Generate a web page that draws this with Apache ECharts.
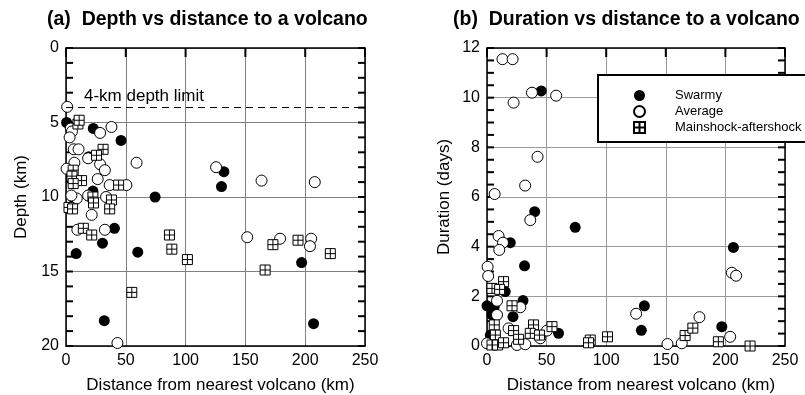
<!DOCTYPE html>
<html>
<head>
<meta charset="utf-8">
<script src="https://cdn.jsdelivr.net/npm/echarts@6/dist/echarts.min.js"></script>
<style>
  html, body { margin: 0; padding: 0; background: #fff; }
  #chart { width: 805px; height: 395px; }
</style>
</head>
<body>
<div id="chart"></div>
<script>
// [distance km, depth km]
const swarmyDepth = [
  [0.5, 5.0], [22.8, 5.4], [46, 6.2], [19, 7.3], [132, 8.3], [130, 9.3], [74.5, 10.0], [22.5, 9.6],
  [5.5, 10.0], [40.5, 12.1], [30.5, 13.1], [8.5, 13.8], [60, 13.7], [32, 18.3], [197, 14.4], [207, 18.5]
];
const averageDepth = [
  [1, 3.95], [4, 5.4], [5, 5.6], [3, 6.0], [38, 5.3], [28.5, 5.7], [6.5, 6.8], [10.5, 6.8], [18.5, 7.4],
  [28.5, 7.8], [32.5, 8.2], [59, 7.7], [7, 7.7], [0.5, 8.1], [125.5, 8.0], [163.5, 8.9], [208, 9.0],
  [26.5, 8.8], [36.5, 9.2], [50.5, 9.2], [9, 10.1], [4.5, 9.9], [21.5, 11.2], [33.5, 10.0], [18.5, 9.9],
  [9.5, 12.2], [32.5, 12.2], [151.5, 12.7], [179, 12.8], [205, 12.8], [204, 13.3], [43, 19.8]
];
const mainshockDepth = [
  [10, 5.1], [11, 4.85], [31, 6.8], [25.5, 7.2], [6, 8.2], [5, 8.6], [13, 8.9], [6, 9.1], [44, 9.2],
  [2.5, 10.7], [5.5, 10.8], [22.5, 10.0], [23, 10.4], [38, 10.2], [36.5, 10.8], [14.5, 12.1], [21.5, 12.55],
  [86.5, 12.55], [88.5, 13.5], [101.5, 14.2], [55, 16.4], [166.5, 14.9], [173, 13.2], [194, 12.9], [221, 13.8]
];

// [distance km, duration days]
const swarmyDuration = [
  [45.5, 10.27], [40, 5.41], [74, 4.78], [19.5, 4.16], [31.5, 3.23], [15.3, 2.19], [30.2, 1.83], [0, 1.62],
  [6, 1.58], [4.2, 1.25], [21.8, 1.18], [2.8, 0.44], [60, 0.51], [129.5, 0.63], [132, 1.62], [197, 0.78], [206.7, 3.97]
];
const averageDuration = [
  [13, 11.55], [21.5, 11.55], [22.3, 9.8], [37.7, 10.2], [58, 10.08], [42.4, 7.62], [32, 6.46], [6.4, 6.12],
  [36.3, 5.07], [9.7, 4.43], [13.4, 4.16], [10.3, 3.87], [0.5, 3.19], [1, 2.82], [205.4, 2.95], [209, 2.83],
  [27.9, 1.56], [8.4, 1.82], [8.4, 1.25], [18.1, 0.71], [50.3, 0.62], [44.7, 0.31], [0, 0.11], [25.1, 0.04],
  [32.1, 0.07], [125.1, 1.3], [151.4, 0.08], [163.4, 0.11], [178.2, 1.16], [204, 0.37]
];
const mainshockDuration = [
  [13.9, 2.59], [4.2, 2.32], [10.6, 2.28], [21, 1.62], [6.1, 0.85], [22.3, 0.62], [39, 0.85], [36.3, 0.51],
  [54.5, 0.78], [44, 0.44], [7, 0.44], [4.2, 0.04], [8.9, 0.04], [13.9, 0.13], [26.5, 0.27], [86.6, 0.24],
  [85.2, 0.13], [101.1, 0.37], [166.2, 0.42], [172.7, 0.72], [194.1, 0.17], [220.7, 0]
];

// tick positions on the frame (majors also carry labels / grid lines)
const distanceTicks = [0, 50, 100, 150, 200, 250];
const depthTicks = [0, 1, 2, 3, 4, 5, 6, 7, 8, 9, 10, 11, 12, 13, 14, 15, 16, 17, 18, 19, 20];
const durationTicks = [0, 0.5, 1, 1.5, 2, 2.5, 3, 3.5, 4, 4.5, 5, 5.5, 6, 6.5, 7, 7.5, 8, 8.5, 9, 9.5, 10, 10.5, 11, 11.5, 12];

const FONT = '"Liberation Sans", Arial, Helvetica, sans-serif';
const SQUARE = 'path://M0 0H10V10H0Z M5 0V10 M0 5H10';

const swarmyStyle = { symbol: 'circle', symbolSize: 11, itemStyle: { color: '#000', opacity: 1 } };
const averageStyle = { symbol: 'circle', symbolSize: 11, itemStyle: { color: '#fff', borderColor: '#000', borderWidth: 1, opacity: 1 } };
const mainshockStyle = { symbol: SQUARE, symbolSize: 10, itemStyle: { color: '#fff', borderColor: '#000', borderWidth: 1, opacity: 1 } };

const frameLine = { show: true, onZero: false, lineStyle: { color: '#000', width: 1.5 } };

function xAxes(gridIndex, grid) {
  const common = { gridIndex, type: 'value', min: 0, max: 250, interval: 50, axisLine: frameLine, axisTick: { show: false } };
  return [
    {
      ...common, position: 'bottom',
      name: 'Distance from nearest volcano (km)', nameLocation: 'middle', nameGap: 31,
      nameTextStyle: { color: '#000', fontSize: 17, fontFamily: FONT, padding: [0, 0, 0, 10] },
      axisLabel: { color: '#000', fontSize: 16, fontFamily: FONT, margin: 7 },
      splitLine: { show: true, lineStyle: { color: grid, width: 1 } },
    },
    { ...common, position: 'top', axisLabel: { show: false }, splitLine: { show: false } },
  ];
}

function yAxes(gridIndex, range, major, name, nameGap, grid) {
  const common = { gridIndex, type: 'value', min: range[0], max: range[1], inverse: !!range[2], interval: major, axisLine: frameLine, axisTick: { show: false } };
  return [
    {
      ...common, position: 'left',
      name, nameLocation: 'middle', nameGap,
      nameTextStyle: { color: '#000', fontSize: 17, fontFamily: FONT },
      axisLabel: { color: '#000', fontSize: 16, fontFamily: FONT, margin: 7 },
      splitLine: { show: true, lineStyle: { color: grid, width: 1 } },
    },
    { ...common, position: 'right', axisLabel: { show: false }, splitLine: { show: false } },
  ];
}

// inward frame ticks drawn as thin rect symbols placed through the axes' scales
function tickMarks(axisIndex, points, size, offset) {
  return {
    type: 'scatter', xAxisIndex: axisIndex, yAxisIndex: axisIndex, silent: true, clip: false, z: 1,
    symbol: 'rect', symbolSize: size, symbolOffset: offset,
    itemStyle: { color: '#000', opacity: 1 },
    data: points,
  };
}

const chart = echarts.init(document.getElementById('chart'), null, { renderer: 'canvas' });

chart.setOption({
  animation: false,
  backgroundColor: '#fff',
  textStyle: { fontFamily: FONT },
  title: [
    { text: '(a)  Depth vs distance to a volcano', left: 42, top: 5, textStyle: { fontSize: 19.5, fontWeight: 'bold', color: '#000', fontFamily: FONT } },
    { text: '(b)  Duration vs distance to a volcano', left: 448, top: 5, textStyle: { fontSize: 19.5, fontWeight: 'bold', color: '#000', fontFamily: FONT } },
  ],
  grid: [
    { left: 66, top: 48, width: 299, height: 298, containLabel: false, outerBoundsMode: 'none' },
    { left: 487, top: 48, width: 298, height: 298, containLabel: false, outerBoundsMode: 'none' },
  ],
  xAxis: [...xAxes(0, '#808080'), ...xAxes(1, '#999')],
  yAxis: [
    ...yAxes(0, [0, 20, true], 5, 'Depth (km)', 36, '#808080'),
    ...yAxes(1, [0, 12], 2, 'Duration (days)', 34, '#999'),
  ],
  legend: {
    data: ['Swarmy', 'Average', 'Mainshock-aftershock'],
    orient: 'vertical', left: 628, top: 84, z: 20,
    itemWidth: 11, itemHeight: 11, itemGap: 3,
    textStyle: { color: '#000', fontSize: 13, fontFamily: FONT, padding: [0, 0, 0, 25] },
  },
  graphic: [{
    type: 'rect', z: 10,
    shape: { x: 598, y: 75, width: 240, height: 67 },
    style: { fill: '#fff', stroke: '#000', lineWidth: 2 },
  }],
  series: [
    tickMarks(0, depthTicks.map((v) => [0, v]), [7, 2], [3.5, 0]),
    tickMarks(0, depthTicks.map((v) => [250, v]), [7, 2], [-3.5, 0]),
    tickMarks(0, distanceTicks.map((v) => [v, 0]), [2, 9], [0, 4.5]),
    tickMarks(2, durationTicks.map((v) => [0, v]), [7, 2], [3.5, 0]),
    tickMarks(2, durationTicks.map((v) => [250, v]), [7, 2], [-3.5, 0]),
    tickMarks(2, distanceTicks.map((v) => [v, 12]), [2, 9], [0, 4.5]),
    { name: 'Swarmy', type: 'scatter', xAxisIndex: 0, yAxisIndex: 0, data: swarmyDepth, ...swarmyStyle },
    {
      name: 'Average', type: 'scatter', xAxisIndex: 0, yAxisIndex: 0, data: averageDepth, ...averageStyle,
      markLine: {
        silent: true, symbol: 'none', animation: false,
        lineStyle: { color: '#000', type: [7, 5], width: 1 },
        label: { show: true, position: 'insideStartTop', formatter: '4-km depth limit', color: '#000', fontSize: 17, fontFamily: FONT, distance: [18, 3] },
        data: [{ yAxis: 4 }],
      },
    },
    { name: 'Mainshock-aftershock', type: 'scatter', xAxisIndex: 0, yAxisIndex: 0, data: mainshockDepth, ...mainshockStyle },
    { name: 'Swarmy', type: 'scatter', xAxisIndex: 2, yAxisIndex: 2, data: swarmyDuration, ...swarmyStyle },
    { name: 'Average', type: 'scatter', xAxisIndex: 2, yAxisIndex: 2, data: averageDuration, ...averageStyle },
    { name: 'Mainshock-aftershock', type: 'scatter', xAxisIndex: 2, yAxisIndex: 2, data: mainshockDuration, ...mainshockStyle },
  ],
});
</script>
</body>
</html>
